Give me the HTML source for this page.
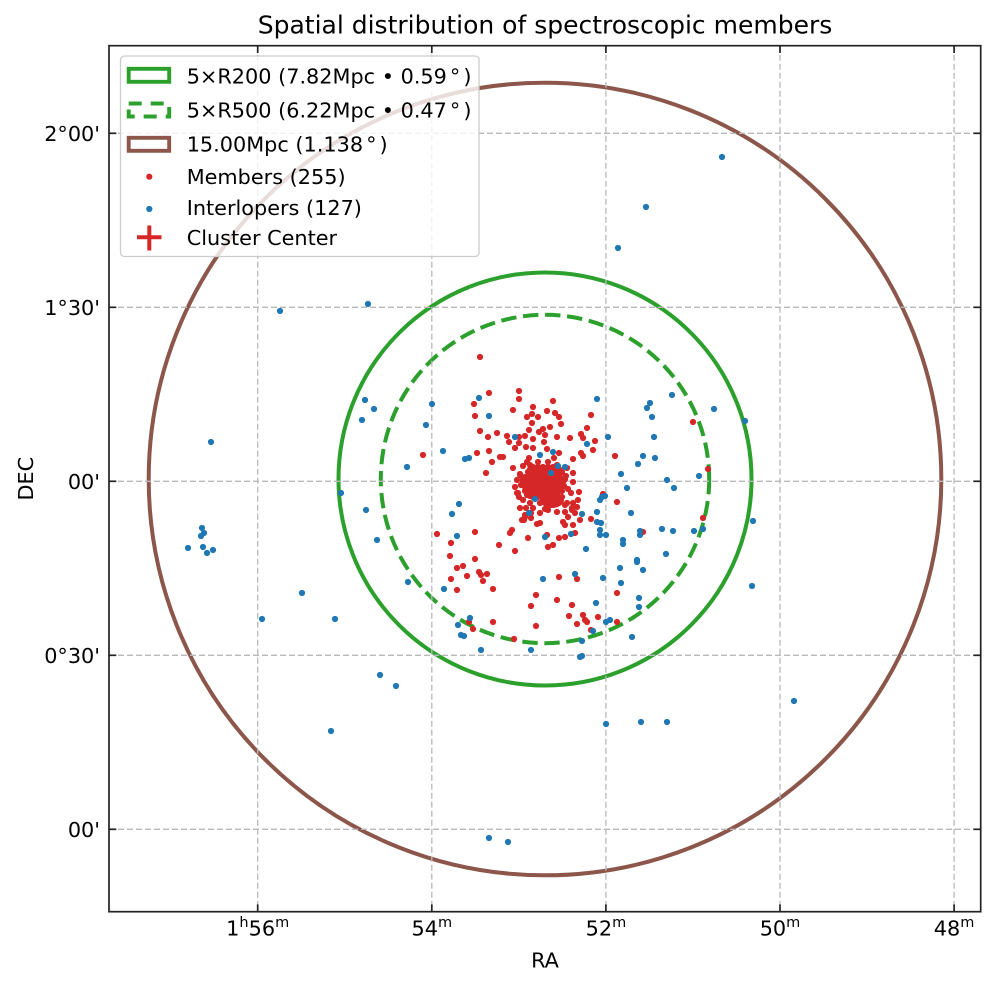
<!DOCTYPE html>
<html><head><meta charset="utf-8"><style>
html,body{margin:0;padding:0;background:#fff;}
svg{display:block;}
text{font-family:"DejaVu Sans","Liberation Sans",sans-serif;fill:#000;}
</style></head><body>
<svg width="996" height="986" viewBox="0 0 996 986" xmlns="http://www.w3.org/2000/svg">
<rect width="996" height="986" fill="#fff"/>
<!-- title -->
<text x="545" y="33.5" font-size="25" text-anchor="middle">Spatial distribution of spectroscopic members</text>

<!-- circles -->
<circle cx="545" cy="479" r="396.3" fill="none" stroke="#8c564b" stroke-width="4"/>
<circle cx="545" cy="479" r="206.5" fill="none" stroke="#2ca02c" stroke-width="4"/>
<circle cx="545" cy="479" r="164.2" fill="none" stroke="#2ca02c" stroke-width="4" stroke-dasharray="15.4 6.7"/>

<!-- grid -->
<g stroke="#b8b8b8" stroke-width="1.3" stroke-dasharray="6 3" fill="none">
<line x1="257.7" y1="45.7" x2="257.7" y2="911.7"/>
<line x1="431.8" y1="45.7" x2="431.8" y2="911.7"/>
<line x1="605.9" y1="45.7" x2="605.9" y2="911.7"/>
<line x1="780" y1="45.7" x2="780" y2="911.7"/>
<line x1="954.1" y1="45.7" x2="954.1" y2="911.7"/>
<line x1="109" y1="133.3" x2="980.7" y2="133.3"/>
<line x1="109" y1="307.3" x2="980.7" y2="307.3"/>
<line x1="109" y1="481.3" x2="980.7" y2="481.3"/>
<line x1="109" y1="655.3" x2="980.7" y2="655.3"/>
<line x1="109" y1="829.3" x2="980.7" y2="829.3"/>
</g>

<!-- cluster center (hidden under members) -->
<g stroke="#d62728" stroke-width="4"><line x1="533" y1="480" x2="557" y2="480"/><line x1="545" y1="468" x2="545" y2="492"/></g>

<!-- members -->
<g fill="#d62728">
<ellipse cx="543" cy="483" rx="19" ry="16"/>
<ellipse cx="552" cy="500" rx="12" ry="8"/>
<circle cx="480" cy="357" r="3.1"/><circle cx="489" cy="393" r="3.1"/><circle cx="519" cy="391" r="3.1"/><circle cx="474" cy="404" r="3.1"/><circle cx="519" cy="399" r="3.1"/><circle cx="533" cy="407" r="3.1"/><circle cx="553" cy="401" r="3.1"/><circle cx="513" cy="410" r="3.1"/><circle cx="547" cy="411" r="3.1"/><circle cx="555" cy="413" r="3.1"/><circle cx="475" cy="416" r="3.1"/><circle cx="527" cy="417" r="3.1"/><circle cx="532" cy="414" r="3.1"/><circle cx="538" cy="417" r="3.1"/><circle cx="559" cy="417" r="3.1"/><circle cx="591" cy="415" r="3.1"/><circle cx="532" cy="423" r="3.1"/><circle cx="561" cy="424" r="3.1"/><circle cx="480" cy="431" r="3.1"/><circle cx="497" cy="433" r="3.1"/><circle cx="488" cy="437" r="3.1"/><circle cx="529" cy="430" r="3.1"/><circle cx="539" cy="432" r="3.1"/><circle cx="543" cy="429" r="3.1"/><circle cx="550" cy="427" r="3.1"/><circle cx="587" cy="428" r="3.1"/><circle cx="507" cy="436" r="3.1"/><circle cx="509" cy="442" r="3.1"/><circle cx="519" cy="437" r="3.1"/><circle cx="525" cy="436" r="3.1"/><circle cx="533" cy="439" r="3.1"/><circle cx="545" cy="435" r="3.1"/><circle cx="557" cy="437" r="3.1"/><circle cx="570" cy="438" r="3.1"/><circle cx="581" cy="434" r="3.1"/><circle cx="583" cy="438" r="3.1"/><circle cx="595" cy="441" r="3.1"/><circle cx="544" cy="442" r="3.1"/><circle cx="519" cy="443" r="3.1"/><circle cx="515" cy="448" r="3.1"/><circle cx="526" cy="447" r="3.1"/><circle cx="533" cy="448" r="3.1"/><circle cx="547" cy="449" r="3.1"/><circle cx="559" cy="453" r="3.1"/><circle cx="489" cy="451" r="3.1"/><circle cx="477" cy="453" r="3.1"/><circle cx="500" cy="457" r="3.1"/><circle cx="503" cy="457" r="3.1"/><circle cx="529" cy="458" r="3.1"/><circle cx="554" cy="458" r="3.1"/><circle cx="573" cy="459" r="3.1"/><circle cx="581" cy="453" r="3.1"/><circle cx="583" cy="456" r="3.1"/><circle cx="593" cy="450" r="3.1"/><circle cx="492" cy="462" r="3.1"/><circle cx="423" cy="455" r="3.1"/><circle cx="615" cy="456" r="3.1"/><circle cx="523" cy="466" r="3.1"/><circle cx="486" cy="473" r="3.1"/><circle cx="520" cy="475" r="3.1"/><circle cx="567" cy="468" r="3.1"/><circle cx="562" cy="472" r="3.1"/><circle cx="573" cy="473" r="3.1"/><circle cx="573" cy="482" r="3.1"/><circle cx="579" cy="492" r="3.1"/><circle cx="571" cy="493" r="3.1"/><circle cx="517" cy="493" r="3.1"/><circle cx="519" cy="497" r="3.1"/><circle cx="527" cy="495" r="3.1"/><circle cx="567" cy="503" r="3.1"/><circle cx="573" cy="503" r="3.1"/><circle cx="577" cy="507" r="3.1"/><circle cx="572" cy="510" r="3.1"/><circle cx="565" cy="512" r="3.1"/><circle cx="557" cy="512" r="3.1"/><circle cx="548" cy="510" r="3.1"/><circle cx="540" cy="513" r="3.1"/><circle cx="526" cy="508" r="3.1"/><circle cx="533" cy="508" r="3.1"/><circle cx="522" cy="520" r="3.1"/><circle cx="525" cy="517" r="3.1"/><circle cx="531" cy="518" r="3.1"/><circle cx="557" cy="503" r="3.1"/><circle cx="617" cy="502" r="3.1"/><circle cx="591" cy="519" r="3.1"/><circle cx="563" cy="522" r="3.1"/><circle cx="565" cy="525" r="3.1"/><circle cx="573" cy="525" r="3.1"/><circle cx="537" cy="524" r="3.1"/><circle cx="540" cy="523" r="3.1"/><circle cx="512" cy="530" r="3.1"/><circle cx="510" cy="533" r="3.1"/><circle cx="528" cy="538" r="3.1"/><circle cx="547" cy="535" r="3.1"/><circle cx="575" cy="533" r="3.1"/><circle cx="559" cy="538" r="3.1"/><circle cx="565" cy="537" r="3.1"/><circle cx="475" cy="532" r="3.1"/><circle cx="437" cy="534" r="3.1"/><circle cx="451" cy="543" r="3.1"/><circle cx="499" cy="545" r="3.1"/><circle cx="515" cy="551" r="3.1"/><circle cx="548" cy="547" r="3.1"/><circle cx="553" cy="545" r="3.1"/><circle cx="450" cy="556" r="3.1"/><circle cx="475" cy="559" r="3.1"/><circle cx="603" cy="494" r="3.1"/><circle cx="643" cy="532" r="3.1"/>
<circle cx="457" cy="568" r="3.1"/><circle cx="463" cy="566" r="3.1"/><circle cx="467" cy="576" r="3.1"/><circle cx="479" cy="572" r="3.1"/><circle cx="481" cy="575" r="3.1"/><circle cx="487" cy="574" r="3.1"/><circle cx="451" cy="579" r="3.1"/><circle cx="483" cy="581" r="3.1"/><circle cx="457" cy="590" r="3.1"/><circle cx="493" cy="589" r="3.1"/><circle cx="559" cy="577" r="3.1"/><circle cx="577" cy="579" r="3.1"/><circle cx="536" cy="595" r="3.1"/><circle cx="531" cy="606" r="3.1"/><circle cx="557" cy="600" r="3.1"/><circle cx="572" cy="605" r="3.1"/><circle cx="617" cy="593" r="3.1"/><circle cx="569" cy="616" r="3.1"/><circle cx="583" cy="615" r="3.1"/><circle cx="585" cy="620" r="3.1"/><circle cx="587" cy="622" r="3.1"/><circle cx="598" cy="617" r="3.1"/><circle cx="577" cy="624" r="3.1"/><circle cx="591" cy="630" r="3.1"/><circle cx="536" cy="626" r="3.1"/><circle cx="493" cy="622" r="3.1"/><circle cx="469" cy="622" r="3.1"/><circle cx="473" cy="629" r="3.1"/><circle cx="514" cy="639" r="3.1"/><circle cx="617" cy="622" r="3.1"/>
<circle cx="693" cy="422" r="3.1"/><circle cx="708" cy="469" r="3.1"/><circle cx="703" cy="518" r="3.1"/>
<!-- dense core -->
<circle cx="533" cy="467" r="3.1"/><circle cx="538" cy="467" r="3.1"/><circle cx="543" cy="467" r="3.1"/><circle cx="548" cy="467" r="3.1"/><circle cx="553" cy="467" r="3.1"/>
<circle cx="528" cy="472" r="3.1"/><circle cx="533" cy="472" r="3.1"/><circle cx="538" cy="472" r="3.1"/><circle cx="543" cy="472" r="3.1"/><circle cx="548" cy="472" r="3.1"/><circle cx="553" cy="472" r="3.1"/><circle cx="558" cy="472" r="3.1"/>
<circle cx="525" cy="477" r="3.1"/><circle cx="530" cy="477" r="3.1"/><circle cx="535" cy="477" r="3.1"/><circle cx="540" cy="477" r="3.1"/><circle cx="545" cy="477" r="3.1"/><circle cx="550" cy="477" r="3.1"/><circle cx="555" cy="477" r="3.1"/><circle cx="560" cy="477" r="3.1"/>
<circle cx="523" cy="482" r="3.1"/><circle cx="528" cy="482" r="3.1"/><circle cx="533" cy="482" r="3.1"/><circle cx="538" cy="482" r="3.1"/><circle cx="543" cy="482" r="3.1"/><circle cx="548" cy="482" r="3.1"/><circle cx="553" cy="482" r="3.1"/><circle cx="558" cy="482" r="3.1"/><circle cx="563" cy="482" r="3.1"/>
<circle cx="525" cy="487" r="3.1"/><circle cx="530" cy="487" r="3.1"/><circle cx="535" cy="487" r="3.1"/><circle cx="540" cy="487" r="3.1"/><circle cx="545" cy="487" r="3.1"/><circle cx="550" cy="487" r="3.1"/><circle cx="555" cy="487" r="3.1"/><circle cx="560" cy="487" r="3.1"/>
<circle cx="528" cy="492" r="3.1"/><circle cx="533" cy="492" r="3.1"/><circle cx="538" cy="492" r="3.1"/><circle cx="543" cy="492" r="3.1"/><circle cx="548" cy="492" r="3.1"/><circle cx="553" cy="492" r="3.1"/><circle cx="558" cy="492" r="3.1"/>
<circle cx="533" cy="497" r="3.1"/><circle cx="538" cy="497" r="3.1"/><circle cx="543" cy="497" r="3.1"/><circle cx="548" cy="497" r="3.1"/><circle cx="553" cy="497" r="3.1"/>
<circle cx="530" cy="469.5" r="3.1"/><circle cx="556" cy="469.5" r="3.1"/><circle cx="523" cy="479.5" r="3.1"/><circle cx="565" cy="479.5" r="3.1"/><circle cx="521" cy="485" r="3.1"/><circle cx="564" cy="486" r="3.1"/><circle cx="525" cy="491" r="3.1"/><circle cx="562" cy="491" r="3.1"/><circle cx="530" cy="496" r="3.1"/><circle cx="557" cy="496" r="3.1"/>
<circle cx="517" cy="480" r="3.1"/><circle cx="515" cy="487" r="3.1"/><circle cx="518" cy="493" r="3.1"/><circle cx="520" cy="474" r="3.1"/><circle cx="566" cy="476" r="3.1"/><circle cx="568" cy="489" r="3.1"/><circle cx="562" cy="497" r="3.1"/><circle cx="557" cy="503" r="3.1"/><circle cx="550" cy="505" r="3.1"/><circle cx="545" cy="509" r="3.1"/><circle cx="540" cy="503" r="3.1"/><circle cx="530" cy="503" r="3.1"/><circle cx="523" cy="500" r="3.1"/><circle cx="520" cy="508" r="3.1"/><circle cx="525" cy="515" r="3.1"/><circle cx="524" cy="520" r="3.1"/><circle cx="531" cy="513" r="3.1"/><circle cx="565" cy="505" r="3.1"/><circle cx="572" cy="508" r="3.1"/><circle cx="578" cy="500" r="3.1"/><circle cx="575" cy="513" r="3.1"/><circle cx="568" cy="517" r="3.1"/><circle cx="580" cy="520" r="3.1"/><circle cx="548" cy="462" r="3.1"/><circle cx="538" cy="462" r="3.1"/><circle cx="530" cy="465" r="3.1"/><circle cx="557" cy="465" r="3.1"/><circle cx="560" cy="470" r="3.1"/><circle cx="527" cy="462" r="3.1"/><circle cx="513" cy="468" r="3.1"/>
</g>

<!-- interlopers -->
<g fill="#1f77b4">
<circle cx="432" cy="404" r="3.1"/><circle cx="479" cy="398" r="3.1"/><circle cx="489" cy="416" r="3.1"/><circle cx="597" cy="399" r="3.1"/><circle cx="426" cy="425" r="3.1"/><circle cx="443" cy="451" r="3.1"/><circle cx="465" cy="459" r="3.1"/><circle cx="469" cy="458" r="3.1"/><circle cx="407" cy="467" r="3.1"/><circle cx="515" cy="437" r="3.1"/><circle cx="553" cy="452" r="3.1"/><circle cx="540" cy="455" r="3.1"/><circle cx="558" cy="466" r="3.1"/><circle cx="565" cy="467" r="3.1"/><circle cx="551" cy="473" r="3.1"/><circle cx="587" cy="444" r="3.1"/><circle cx="608" cy="437" r="3.1"/><circle cx="647" cy="408" r="3.1"/><circle cx="650" cy="403" r="3.1"/><circle cx="652" cy="417" r="3.1"/><circle cx="654" cy="437" r="3.1"/><circle cx="672" cy="395" r="3.1"/><circle cx="643" cy="456" r="3.1"/><circle cx="655" cy="458" r="3.1"/><circle cx="638" cy="464" r="3.1"/><circle cx="621" cy="474" r="3.1"/><circle cx="627" cy="488" r="3.1"/><circle cx="667" cy="480" r="3.1"/><circle cx="674" cy="488" r="3.1"/><circle cx="535" cy="499" r="3.1"/><circle cx="529" cy="513" r="3.1"/><circle cx="459" cy="504" r="3.1"/><circle cx="452" cy="514" r="3.1"/><circle cx="457" cy="536" r="3.1"/><circle cx="582" cy="514" r="3.1"/><circle cx="597" cy="512" r="3.1"/><circle cx="597" cy="522" r="3.1"/><circle cx="601" cy="523" r="3.1"/><circle cx="602" cy="497" r="3.1"/><circle cx="605" cy="496" r="3.1"/><circle cx="600" cy="500" r="3.1"/><circle cx="600" cy="530" r="3.1"/><circle cx="600" cy="535" r="3.1"/><circle cx="606" cy="535" r="3.1"/><circle cx="631" cy="513" r="3.1"/><circle cx="640" cy="531" r="3.1"/><circle cx="640" cy="535" r="3.1"/><circle cx="662" cy="529" r="3.1"/><circle cx="673" cy="531" r="3.1"/><circle cx="623" cy="540" r="3.1"/><circle cx="623" cy="544" r="3.1"/><circle cx="571" cy="534" r="3.1"/><circle cx="545" cy="537" r="3.1"/><circle cx="586" cy="549" r="3.1"/><circle cx="666" cy="554" r="3.1"/><circle cx="637" cy="560" r="3.1"/><circle cx="377" cy="540" r="3.1"/><circle cx="637" cy="562" r="3.1"/><circle cx="643" cy="570" r="3.1"/><circle cx="620" cy="568" r="3.1"/><circle cx="621" cy="583" r="3.1"/><circle cx="639" cy="598" r="3.1"/><circle cx="639" cy="607" r="3.1"/><circle cx="603" cy="578" r="3.1"/><circle cx="575" cy="574" r="3.1"/><circle cx="543" cy="579" r="3.1"/><circle cx="408" cy="582" r="3.1"/><circle cx="444" cy="589" r="3.1"/><circle cx="335" cy="619" r="3.1"/><circle cx="380" cy="675" r="3.1"/><circle cx="470" cy="618" r="3.1"/><circle cx="458" cy="625" r="3.1"/><circle cx="461" cy="635" r="3.1"/><circle cx="464" cy="636" r="3.1"/><circle cx="481" cy="650" r="3.1"/><circle cx="531" cy="650" r="3.1"/><circle cx="580" cy="657" r="3.1"/><circle cx="582" cy="656" r="3.1"/><circle cx="582" cy="641" r="3.1"/><circle cx="593" cy="631" r="3.1"/><circle cx="596" cy="603" r="3.1"/><circle cx="606" cy="622" r="3.1"/><circle cx="610" cy="620" r="3.1"/><circle cx="632" cy="637" r="3.1"/><circle cx="365" cy="400" r="3.1"/><circle cx="374" cy="409" r="3.1"/><circle cx="362" cy="420" r="3.1"/><circle cx="211" cy="442" r="3.1"/><circle cx="341" cy="493" r="3.1"/><circle cx="366" cy="510" r="3.1"/><circle cx="202" cy="528" r="3.1"/><circle cx="204" cy="533" r="3.1"/><circle cx="201" cy="536" r="3.1"/><circle cx="188" cy="548" r="3.1"/><circle cx="203" cy="547" r="3.1"/><circle cx="207" cy="553" r="3.1"/><circle cx="213" cy="550" r="3.1"/><circle cx="714" cy="409" r="3.1"/><circle cx="745" cy="421" r="3.1"/><circle cx="699" cy="476" r="3.1"/><circle cx="753" cy="521" r="3.1"/><circle cx="694" cy="531" r="3.1"/><circle cx="703" cy="529" r="3.1"/><circle cx="752" cy="586" r="3.1"/><circle cx="368" cy="304" r="3.1"/><circle cx="302" cy="593" r="3.1"/><circle cx="262" cy="619" r="3.1"/><circle cx="331" cy="731" r="3.1"/><circle cx="396" cy="686" r="3.1"/><circle cx="794" cy="701" r="3.1"/><circle cx="606" cy="724" r="3.1"/><circle cx="641" cy="722" r="3.1"/><circle cx="667" cy="722" r="3.1"/><circle cx="489" cy="838" r="3.1"/><circle cx="508" cy="842" r="3.1"/><circle cx="722" cy="157" r="3.1"/><circle cx="646" cy="207" r="3.1"/><circle cx="618" cy="248" r="3.1"/><circle cx="280" cy="311" r="3.1"/>
</g>

<!-- spines -->
<rect x="109" y="45.7" width="871.7" height="866" fill="none" stroke="#222" stroke-width="1.7"/>

<!-- ticks (inward, all sides) -->
<g stroke="#222" stroke-width="1.7">
<line x1="257.7" y1="911.7" x2="257.7" y2="904.4"/><line x1="431.8" y1="911.7" x2="431.8" y2="904.4"/><line x1="605.9" y1="911.7" x2="605.9" y2="904.4"/><line x1="780" y1="911.7" x2="780" y2="904.4"/><line x1="954.1" y1="911.7" x2="954.1" y2="904.4"/>
<line x1="257.7" y1="45.7" x2="257.7" y2="53"/><line x1="431.8" y1="45.7" x2="431.8" y2="53"/><line x1="605.9" y1="45.7" x2="605.9" y2="53"/><line x1="780" y1="45.7" x2="780" y2="53"/><line x1="954.1" y1="45.7" x2="954.1" y2="53"/>
<line x1="109" y1="133.3" x2="116.3" y2="133.3"/><line x1="109" y1="307.3" x2="116.3" y2="307.3"/><line x1="109" y1="481.3" x2="116.3" y2="481.3"/><line x1="109" y1="655.3" x2="116.3" y2="655.3"/><line x1="109" y1="829.3" x2="116.3" y2="829.3"/>
<line x1="980.7" y1="133.3" x2="973.4" y2="133.3"/><line x1="980.7" y1="307.3" x2="973.4" y2="307.3"/><line x1="980.7" y1="481.3" x2="973.4" y2="481.3"/><line x1="980.7" y1="655.3" x2="973.4" y2="655.3"/><line x1="980.7" y1="829.3" x2="973.4" y2="829.3"/>
</g>

<!-- y tick labels -->
<g font-size="20.8" text-anchor="end">
<text x="100" y="140.9">2°00'</text>
<text x="100" y="314.9">1°30'</text>
<text x="100" y="488.9">00'</text>
<text x="100" y="662.9">0°30'</text>
<text x="100" y="836.9">00'</text>
</g>

<!-- x tick labels -->
<g font-size="20.8" text-anchor="middle">
<text x="257.7" y="935.7">1<tspan font-size="14.5" dy="-8.5">h</tspan><tspan dy="8.5">56</tspan><tspan font-size="14.5" dy="-8.5">m</tspan></text>
<text x="431.8" y="935.7">54<tspan font-size="14.5" dy="-8.5">m</tspan></text>
<text x="605.9" y="935.7">52<tspan font-size="14.5" dy="-8.5">m</tspan></text>
<text x="780" y="935.7">50<tspan font-size="14.5" dy="-8.5">m</tspan></text>
<text x="954.1" y="935.7">48<tspan font-size="14.5" dy="-8.5">m</tspan></text>
</g>

<!-- axis labels -->
<text x="545" y="967.7" font-size="20.8" text-anchor="middle">RA</text>
<text transform="translate(33,478.7) rotate(-90)" font-size="20.8" text-anchor="middle">DEC</text>

<!-- legend -->
<rect x="120.5" y="56" width="358.5" height="200.5" rx="4" ry="4" fill="#fff" fill-opacity="0.8" stroke="#cccccc" stroke-width="1.3"/>
<rect x="128.7" y="68.8" width="40.5" height="13" fill="none" stroke="#2ca02c" stroke-width="3.9"/>
<rect x="128.7" y="103.5" width="40.5" height="13" fill="none" stroke="#2ca02c" stroke-width="3.9" stroke-dasharray="13 9"/>
<rect x="128.7" y="137.8" width="40.5" height="13" fill="none" stroke="#8c564b" stroke-width="3.9"/>
<circle cx="149.3" cy="176.7" r="3.1" fill="#d62728"/>
<circle cx="149.3" cy="209" r="3.1" fill="#1f77b4"/>
<g stroke="#d62728" stroke-width="4"><line x1="137" y1="237.3" x2="161.5" y2="237.3"/><line x1="149.3" y1="225.5" x2="149.3" y2="250.5"/></g>
<g font-size="20.8">
<text x="186.7" y="83.3">5×R200 (7.82Mpc • 0.59<tspan dx="3">°</tspan><tspan dx="3">)</tspan></text>
<text x="186.7" y="117.7">5×R500 (6.22Mpc • 0.47<tspan dx="3">°</tspan><tspan dx="3">)</tspan></text>
<text x="186.7" y="151.7">15.00Mpc (1.138<tspan dx="3">°</tspan><tspan dx="3">)</tspan></text>
<text x="186.7" y="184">Members (255)</text>
<text x="186.7" y="215">Interlopers (127)</text>
<text x="186.7" y="245">Cluster Center</text>
</g>
</svg>
</body></html>
